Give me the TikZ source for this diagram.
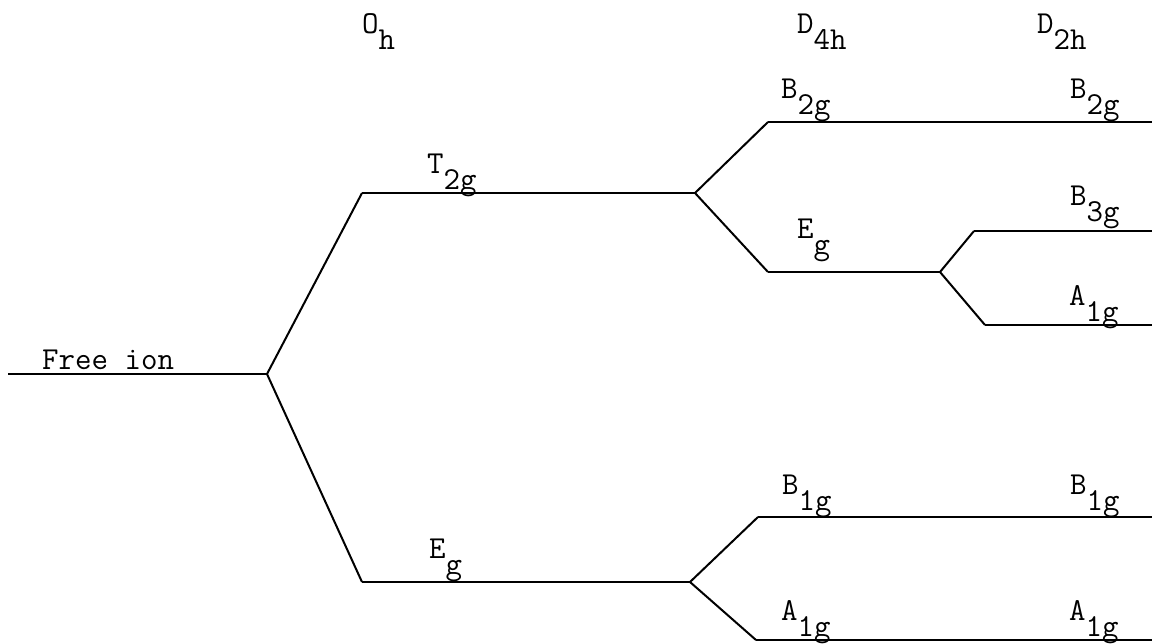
\documentclass[tikz,border=0pt]{standalone}
\usepackage{tikz}
\usetikzlibrary{positioning}
\newcommand{\irrep}[2]{#1\raisebox{-0.5em}{#2}}

\begin{document}
\begin{tikzpicture}[x=1pt, y=-1pt,
  level/.style={line width=2.2pt},
  branch/.style={line width=2pt, line join=round},
  lab/.style={anchor=base west, inner sep=0pt, font=\fontsize{32}{38}\selectfont\ttfamily}]
  \useasboundingbox (0,0) rectangle (1152,643);

  % free ion and O_h levels
  \coordinate (free-l) at (8,374);
  \coordinate (free-r) at (267,374);
  \coordinate (t2g-l) at (362,193);
  \coordinate (t2g-r) at (695,193);
  \coordinate (eg-l) at (362,582);
  \coordinate (eg-r) at (690,582);

  % D_4h levels
  \coordinate (b2g-l) at (768,122);
  \coordinate (b2g-r) at (1152,122);
  \coordinate (egd-l) at (768,272);
  \coordinate (egd-r) at (940,272);
  \coordinate (b1g-l) at (758,517);
  \coordinate (b1g-r) at (1152,517);
  \coordinate (a1g-l) at (756,640);
  \coordinate (a1g-r) at (1152,640);

  % D_2h levels
  \coordinate (b3g-l) at (974,231);
  \coordinate (b3g-r) at (1152,231);
  \coordinate (a1gd-l) at (985,325);
  \coordinate (a1gd-r) at (1152,325);

  \draw[level] (free-l) -- (free-r);
  \draw[level] (t2g-l) -- (t2g-r);
  \draw[level] (eg-l) -- (eg-r);
  \draw[level] (b2g-l) -- (b2g-r);
  \draw[level] (egd-l) -- (egd-r);
  \draw[level] (b1g-l) -- (b1g-r);
  \draw[level] (a1g-l) -- (a1g-r);
  \draw[level] (b3g-l) -- (b3g-r);
  \draw[level] (a1gd-l) -- (a1gd-r);

  % splittings
  \draw[branch] (t2g-l) -- (free-r) -- (eg-l);
  \draw[branch] (b2g-l) -- (t2g-r) -- (egd-l);
  \draw[branch] (b1g-l) -- (eg-r) -- (a1g-l);
  \draw[branch] (b3g-l) -- (egd-r) -- (a1gd-l);

  % group headings
  \node[lab] (oh) at (362,33) {\irrep{O}{h}};
  \node[lab] (d4h) at (797,33) {\irrep{D}{4h}};
  \node[lab] (d2h) at (1037,33) {\irrep{D}{2h}};

  % level labels
  \node[lab] (free) at (42,369) {Free ion};
  \node[lab] (t2g) at (427,173) {\irrep{T}{2g}};
  \node[lab] (eg) at (429,558) {\irrep{E}{g}};
  \node[lab] (b2g) at (781,98) {\irrep{B}{2g}};
  \node[lab] (egd) at (797,238) {\irrep{E}{g}};
  \node[lab] (b1g) at (782,494) {\irrep{B}{1g}};
  \node[lab] (a1g) at (781,620) {\irrep{A}{1g}};
  \node[lab] (b2gd) at (1070,98) {\irrep{B}{2g}};
  \node[lab] (b3g) at (1070,205) {\irrep{B}{3g}};
  \node[lab] (a1gd) at (1069,305) {\irrep{A}{1g}};
  \node[lab] (b1gd) at (1070,494) {\irrep{B}{1g}};
  \node[lab] (a1gdd) at (1069,620) {\irrep{A}{1g}};
\end{tikzpicture}
\end{document}
